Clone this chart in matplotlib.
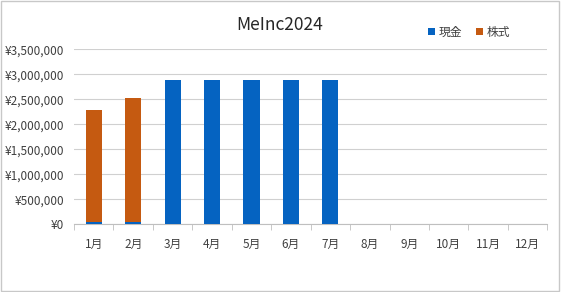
import numpy as np
import matplotlib.pyplot as plt
from matplotlib.patches import Rectangle

plt.rcParams['font.family'] = ['Noto Sans CJK JP', 'DejaVu Sans']

months = ["1月", "2月", "3月", "4月", "5月", "6月", "7月", "8月", "9月", "10月", "11月", "12月"]
cash = [50000, 50000, 2880000, 2880000, 2880000, 2880000, 2880000, 0, 0, 0, 0, 0]
stock = [2236000, 2480000, 0, 0, 0, 0, 0, 0, 0, 0, 0, 0]
yticks = [0, 500000, 1000000, 1500000, 2000000, 2500000, 3000000, 3500000]

fig = plt.figure(figsize=(5.62, 2.92), dpi=100)
fig.patches.append(Rectangle((0.002, 0.005), 0.993, 0.99, transform=fig.transFigure,
                             fill=False, edgecolor="#c8c8c8", linewidth=1))
ax = fig.add_axes([0.1317, 0.2318, 0.8422, 0.5993])

x = np.arange(len(months))
ax.bar(x, cash, width=0.41, color="#0563c1", label="現金", zorder=3)
ax.bar(x, stock, width=0.41, bottom=cash, color="#c55a11", label="株式", zorder=3)

ax.set_xlim(-0.5, len(months) - 0.5)
ax.set_ylim(0, 3500000)
ax.set_yticks(yticks)
ax.set_yticklabels(["¥{:,}".format(v) for v in yticks], fontsize=8.5, color="#404040")
ax.set_xticks(x)
ax.set_xticklabels(months, fontsize=8.5, color="#404040")
ax.tick_params(axis="y", length=0, pad=7)
ax.tick_params(axis="x", length=0, pad=10)
ax.set_xticks(np.arange(-0.5, len(months)), minor=True)
ax.tick_params(axis="x", which="minor", length=4, color="#bfbfbf")
ax.grid(axis="y", color="#d0d0d0", linewidth=0.8, zorder=0)
for s in ["top", "right", "left"]:
    ax.spines[s].set_visible(False)
ax.spines["bottom"].set_color("#bfbfbf")

fig.text(0.498, 0.914, "MeInc2024", ha="center", va="center", fontsize=12.5, color="#262626")
fig.legend(loc="center", bbox_to_anchor=(0.835, 0.89), ncol=2, frameon=False, fontsize=8.5,
           handlelength=0.6, handleheight=0.6, handletextpad=0.3, columnspacing=1.2,
           labelcolor="#404040")

fig.savefig("out.png", dpi=100)
